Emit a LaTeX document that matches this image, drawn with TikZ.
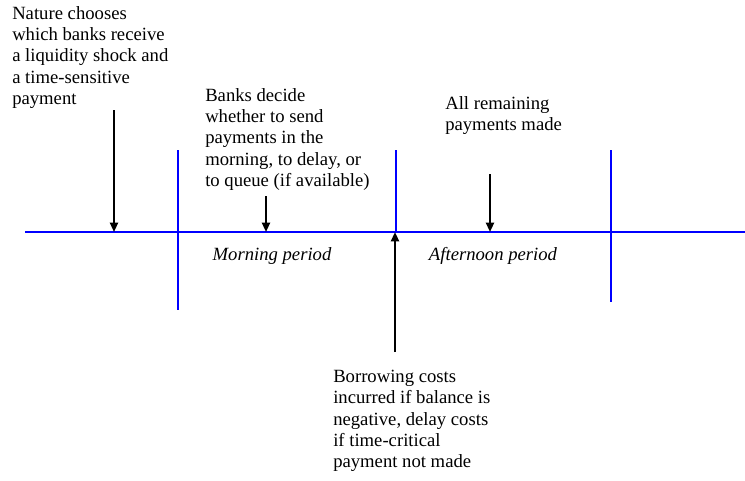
\documentclass[tikz,border=0pt]{standalone}
\usepackage{fontspec}
\setmainfont{Liberation Serif}
\newfontfamily\timesf{Liberation Serif}
\usetikzlibrary{arrows.meta}
\begin{document}
\begin{tikzpicture}[x=0.75pt,y=-0.75pt,
  axis/.style={draw=blue,line width=1.5pt},
  evarrow/.style={draw=black,line width=1.5pt,-{Triangle[length=7pt,width=6pt]}},
  txt/.style={anchor=north west,inner sep=0pt,align=left,font=\timesf\fontsize{14}{16}\selectfont},
  period/.style={inner sep=0pt,font=\timesf\fontsize{14}{16}\selectfont\itshape}]
\useasboundingbox (0,0) rectangle (745,480);
% time line
\coordinate (lineL) at (25,232);
\coordinate (lineR) at (745,232);
\draw[axis] (lineL) -- (lineR);
\coordinate (v1t) at (178,150); \coordinate (v1b) at (178,310);
\coordinate (v2t) at (396,150); \coordinate (v2b) at (396,232);
\coordinate (v3t) at (611,150); \coordinate (v3b) at (611,302);
\draw[axis] (v1t) -- (v1b);
\draw[axis] (v2t) -- (v2b);
\draw[axis] (v3t) -- (v3b);
% texts
\node[txt] (nature) at (12,6) {Nature chooses\\which banks receive\\a liquidity shock and\\a time-sensitive\\payment};
\node[txt] (banks) at (205,88) {Banks decide\\whether to send\\payments in the\\morning, to delay, or\\to queue (if available)};
\node[txt] (remain) at (445,96) {All remaining\\payments made};
\node[txt] (borrow) at (333,370) {Borrowing costs\\incurred if balance is\\negative, delay costs\\if time-critical\\payment not made};
\node[period] (morning) at (272,256) {Morning period};
\node[period] (afternoon) at (493,256) {Afternoon period};
% arrows
\coordinate (a1s) at (114,110); \coordinate (a1e) at (114,232);
\coordinate (a2s) at (266,196); \coordinate (a2e) at (266,232);
\coordinate (a3s) at (490,174); \coordinate (a3e) at (490,232);
\coordinate (a4s) at (395,352); \coordinate (a4e) at (395,232);
\draw[evarrow] (a1s) -- (a1e);
\draw[evarrow] (a2s) -- (a2e);
\draw[evarrow] (a3s) -- (a3e);
\draw[evarrow] (a4s) -- (a4e);
\end{tikzpicture}
\end{document}
